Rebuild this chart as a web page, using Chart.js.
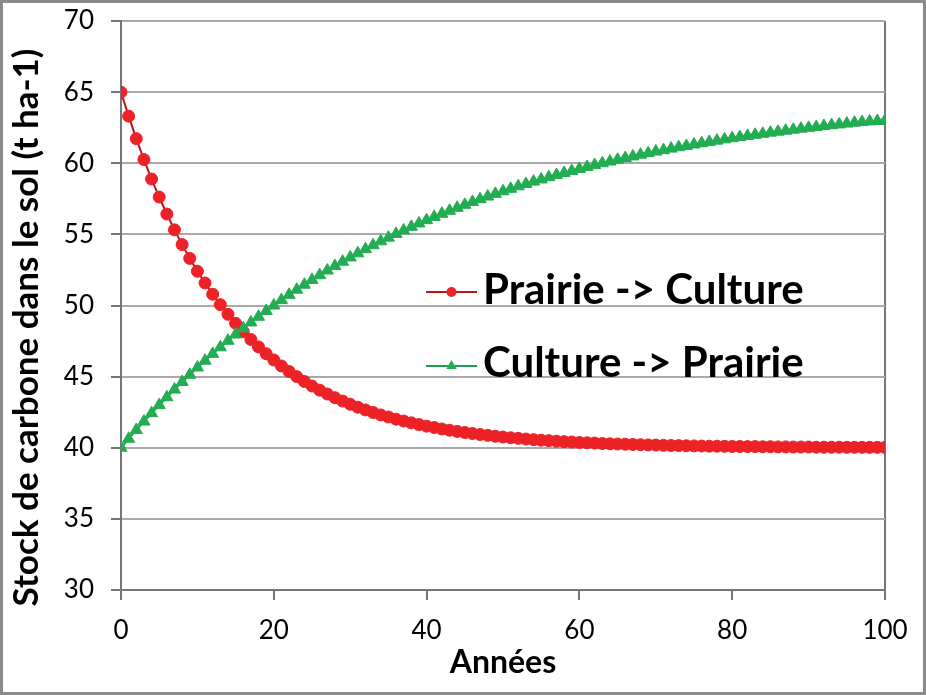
<!DOCTYPE html>
<html>
<head>
<meta charset="utf-8">
<script src="https://cdn.jsdelivr.net/npm/chart.js@4.4.1/dist/chart.umd.min.js"></script>
<style>
  html, body { margin: 0; padding: 0; background: #ffffff; }
  #frame { width: 926px; height: 695px; box-sizing: border-box; border: 3px solid #8a8a8a; background: #fff; }
  canvas { display: block; }
</style>
</head>
<body>
<div id="frame"><canvas id="c" width="920" height="689"></canvas></div>
<script>
const years = [0,1,2,3,4,5,6,7,8,9,10,11,12,13,14,15,16,17,18,19,20,21,22,23,24,25,26,27,28,29,30,31,32,33,34,35,36,37,38,39,40,41,42,43,44,45,46,47,48,49,50,51,52,53,54,55,56,57,58,59,60,61,62,63,64,65,66,67,68,69,70,71,72,73,74,75,76,77,78,79,80,81,82,83,84,85,86,87,88,89,90,91,92,93,94,95,96,97,98,99,100];

const prairieToCulture = [
  65.00, 63.31, 61.73, 60.26, 58.89, 57.62, 56.43, 55.32, 54.28, 53.31,
  52.41, 51.58, 50.79, 50.06, 49.38, 48.75, 48.16, 47.61, 47.09, 46.61,
  46.17, 45.75, 45.36, 45.00, 44.66, 44.34, 44.05, 43.78, 43.52, 43.28,
  43.06, 42.85, 42.66, 42.48, 42.31, 42.16, 42.01, 41.88, 41.75, 41.63,
  41.52, 41.42, 41.32, 41.23, 41.15, 41.07, 41.00, 40.93, 40.87, 40.81,
  40.75, 40.70, 40.66, 40.61, 40.57, 40.53, 40.50, 40.46, 40.43, 40.40,
  40.37, 40.35, 40.33, 40.30, 40.28, 40.26, 40.25, 40.23, 40.21, 40.20,
  40.19, 40.17, 40.16, 40.15, 40.14, 40.13, 40.12, 40.11, 40.11, 40.10,
  40.09, 40.09, 40.08, 40.08, 40.07, 40.07, 40.06, 40.06, 40.05, 40.05,
  40.05, 40.04, 40.04, 40.04, 40.04, 40.03, 40.03, 40.03, 40.03, 40.03, 40.02
];

const cultureToPrairie = [
  40.00, 40.63, 41.25, 41.84, 42.43, 43.00, 43.55, 44.09, 44.62, 45.13,
  45.64, 46.12, 46.60, 47.06, 47.52, 47.96, 48.39, 48.81, 49.21, 49.61,
  50.00, 50.38, 50.75, 51.11, 51.46, 51.80, 52.13, 52.46, 52.77, 53.08,
  53.38, 53.67, 53.96, 54.24, 54.51, 54.77, 55.03, 55.28, 55.53, 55.77,
  56.00, 56.23, 56.45, 56.66, 56.87, 57.08, 57.28, 57.47, 57.66, 57.85,
  58.03, 58.20, 58.38, 58.54, 58.71, 58.86, 59.02, 59.17, 59.32, 59.46,
  59.60, 59.74, 59.87, 60.00, 60.12, 60.25, 60.37, 60.48, 60.60, 60.71,
  60.82, 60.92, 61.03, 61.13, 61.22, 61.32, 61.41, 61.50, 61.59, 61.68,
  61.76, 61.84, 61.92, 62.00, 62.07, 62.15, 62.22, 62.29, 62.36, 62.43,
  62.49, 62.55, 62.62, 62.68, 62.73, 62.79, 62.85, 62.90, 62.94, 62.97, 63.00
];

const seriesLabels = ['Prairie -> Culture', 'Culture -> Prairie'];
const xTitle = 'Années';
const yTitle = 'Stock de carbone dans le sol (t ha-1)';

const RED_LINE = '#b8161c', RED_PT = '#ec2227';
const GREEN_LINE = '#1f9e4c', GREEN_PT = '#22ad52';
const AXIS = '#767676', GRID = '#a9a9a9';

function markerPath(ctx, style, r, x, y) {
  ctx.beginPath();
  if (style === 'triangle') {
    const e = 3 * r / Math.sqrt(3), h = e * Math.sqrt(3) / 2;
    ctx.moveTo(x, y - 2 * h / 3);
    ctx.lineTo(x + e / 2, y + h / 3);
    ctx.lineTo(x - e / 2, y + h / 3);
    ctx.closePath();
  } else {
    ctx.arc(x, y, r, 0, Math.PI * 2);
  }
}

const insideLegend = {
  id: 'insideLegend',
  afterDatasetsDraw(chart) {
    const { ctx, chartArea } = chart;
    ctx.save();
    chart.data.datasets.forEach((ds, i) => {
      const lineY = chartArea.top + 271 + i * 74;
      const baseY = chartArea.top + 283 + i * 73;
      const x0 = chartArea.left + 305, x1 = chartArea.left + 356;
      ctx.strokeStyle = ds.borderColor;
      ctx.lineWidth = 2;
      ctx.beginPath(); ctx.moveTo(x0, lineY); ctx.lineTo(x1, lineY); ctx.stroke();
      ctx.fillStyle = ds.pointBackgroundColor;
      markerPath(ctx, ds.pointStyle, ds.legendRadius, (x0 + x1) / 2, lineY);
      ctx.fill();
      ctx.fillStyle = '#000';
      ctx.font = 'bold 42px Lato';
      ctx.textBaseline = 'alphabetic';
      ctx.textAlign = 'left';
      ctx.fillText(ds.label, chartArea.left + 362, baseY);
    });
    ctx.restore();
  }
};

// Y-axis title, placed slightly below the axis centre as in the original figure
const yAxisTitle = {
  id: 'yAxisTitle',
  afterDraw(chart) {
    const { ctx, chartArea } = chart;
    ctx.save();
    ctx.translate(24, (chartArea.top + chartArea.bottom) / 2 + 22);
    ctx.rotate(-Math.PI / 2);
    ctx.fillStyle = '#000';
    ctx.font = 'bold 35px Lato';
    ctx.textAlign = 'center';
    ctx.textBaseline = 'middle';
    ctx.fillText(yTitle, 0, 0);
    ctx.restore();
  }
};

function build() {
  new Chart(document.getElementById('c'), {
    type: 'line',
    data: {
      labels: years,
      datasets: [
        {
          label: seriesLabels[0],
          data: prairieToCulture,
          borderColor: RED_LINE,
          borderWidth: 2,
          pointStyle: 'circle',
          pointRadius: 6,
          pointBackgroundColor: RED_PT,
          pointBorderColor: RED_PT,
          pointBorderWidth: 1,
          legendRadius: 5,
          tension: 0,
          order: 1
        },
        {
          label: seriesLabels[1],
          data: cultureToPrairie,
          borderColor: GREEN_LINE,
          borderWidth: 2,
          pointStyle: 'triangle',
          pointRadius: 7,
          pointBackgroundColor: GREEN_PT,
          pointBorderColor: GREEN_PT,
          pointBorderWidth: 1,
          legendRadius: 6,
          tension: 0,
          order: 0
        }
      ]
    },
    options: {
      responsive: false,
      animation: false,
      devicePixelRatio: 1,
      layout: { padding: { top: 18, right: 38, left: 0, bottom: 0 } },
      plugins: {
        legend: { display: false },
        tooltip: { enabled: false }
      },
      scales: {
        x: {
          type: 'linear',
          min: 0, max: 100,
          ticks: { stepSize: 20, color: '#000', font: { family: 'Lato', size: 26 }, padding: 15, maxRotation: 0 },
          grid: {
            color: (c) => (c.tick && c.tick.value === 100) ? AXIS : 'rgba(0,0,0,0)',
            tickColor: AXIS,
            lineWidth: 2,
            tickLength: 10,
            drawTicks: true
          },
          border: { color: AXIS, width: 2 },
          title: { display: true, text: xTitle, color: '#000', font: { family: 'Lato', size: 32, weight: 'bold' }, padding: { top: 0, bottom: 10 } },
          afterFit: (s) => { s.height = 102; s.paddingLeft = 0; s.paddingRight = 0; }
        },
        y: {
          min: 30, max: 70,
          ticks: { stepSize: 5, color: '#000', font: { family: 'Lato', size: 26 }, padding: 17 },
          grid: { color: GRID, lineWidth: 2, tickColor: AXIS, tickLength: 10 },
          border: { color: AXIS, width: 2 },
          title: { display: false, text: yTitle },
          afterFit: (s) => { s.width = 118; s.paddingTop = 0; s.paddingBottom = 0; }
        }
      }
    },
    plugins: [insideLegend, yAxisTitle]
  });
}

Promise.all([
  document.fonts.load('26px Lato'),
  document.fonts.load('bold 42px Lato'),
  document.fonts.load('bold 35px Lato')
]).then(build, build);
</script>
</body>
</html>
